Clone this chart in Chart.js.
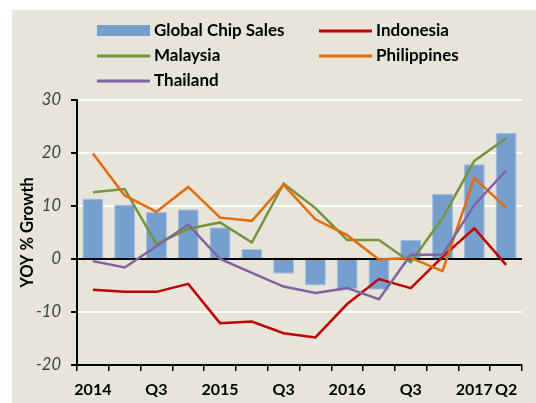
<!DOCTYPE html>
<html>
<head>
<meta charset="utf-8">
<script src="https://cdn.jsdelivr.net/npm/chart.js@4"></script>
<style>
  html, body { margin: 0; padding: 0; background: #ffffff; }
  #wrap { position: absolute; left: 12px; top: 10px; width: 524px; height: 393px; background: #E7E5D9; }
  canvas { display: block; }
</style>
</head>
<body>
<div id="wrap"><canvas id="canvas" width="524" height="393"></canvas></div>
<script>
// quarters 2014 Q1 .. 2017 Q2, only some get a label
var quarters = ['2014', '', 'Q3', '', '2015', '', 'Q3', '', '2016', '', 'Q3', '', '2017', 'Q2']

// YOY % growth
var chipSales   = [11.4, 10.3, 8.9, 9.4, 6.0, 1.9, -2.8, -5.0, -5.7, -5.8, 3.6, 12.3, 17.9, 23.8]
var indonesia   = [-5.8, -6.2, -6.2, -4.7, -12.1, -11.8, -14.0, -14.8, -8.5, -3.8, -5.5, 0.4, 5.8, -1.1]
var malaysia    = [12.6, 13.2, 2.8, 5.7, 6.9, 3.1, 14.2, 9.6, 3.6, 3.6, -0.6, 7.7, 18.5, 22.8]
var philippines = [19.9, 12.0, 8.9, 13.6, 7.8, 7.2, 14.0, 7.5, 4.5, -0.1, 0.2, -2.3, 15.3, 9.7]
var thailand    = [-0.4, -1.6, 2.4, 6.5, 0.0, -2.6, -5.2, -6.4, -5.5, -7.6, 0.8, 0.8, 10.2, 16.7]

var yTicks = [-20, -10, 0, 10, 20, 30]

var FONT = 'Lato, Calibri, "Open Sans", sans-serif'

function lineSet(label, values, color, order) {
    return {
        type: 'line',
        label: label,
        data: values,
        borderColor: color,
        backgroundColor: color,
        borderWidth: 2.5,
        pointRadius: 0,
        tension: 0,
        order: order
    }
}

// legend drawn by hand: two columns like the excel one
var legendPlugin = {
    id: 'gridLegend',
    afterDraw: function (chart) {
        var c = chart.ctx
        var spots = [[85, 21], [307, 21], [85, 46], [307, 46], [85, 71]]
        c.save()
        c.font = 'bold 17px ' + FONT
        c.textBaseline = 'middle'
        chart.data.datasets.forEach(function (ds, i) {
            var x = spots[i][0], y = spots[i][1]
            if (ds.type === 'line') {
                c.strokeStyle = ds.borderColor
                c.lineWidth = 3
                c.beginPath()
                c.moveTo(x, y)
                c.lineTo(x + 53, y)
                c.stroke()
            } else {
                c.fillStyle = ds.backgroundColor
                c.fillRect(x, y - 6, 53, 11)
            }
            c.fillStyle = '#000000'
            c.fillText(ds.label, x + 57, y)
        })
        c.restore()
    }
}

var config = {
    type: 'bar',
    data: {
        labels: quarters,
        datasets: [
            {
                type: 'bar',
                label: 'Global Chip Sales',
                data: chipSales,
                backgroundColor: '#779FCD',
                borderColor: '#A6C0DF',
                borderWidth: 1,
                barPercentage: 0.66,
                categoryPercentage: 1,
                order: 10
            },
            lineSet('Indonesia', indonesia, '#C00000', 4),
            lineSet('Malaysia', malaysia, '#77933C', 3),
            lineSet('Philippines', philippines, '#E46C0A', 2),
            lineSet('Thailand', thailand, '#8064A2', 1)
        ]
    },
    options: {
        responsive: false,
        animation: false,
        devicePixelRatio: 1,
        layout: { padding: { top: 90, right: 14, left: 0, bottom: 0 } },
        plugins: {
            legend: { display: false },
            tooltip: { enabled: false }
        },
        scales: {
            x: {
                offset: true,
                grid: {
                    display: true,
                    offset: true,
                    drawOnChartArea: false,
                    drawTicks: true,
                    tickLength: 6,
                    color: '#000000',
                    lineWidth: 1.5
                },
                border: { color: '#000000', width: 2 },
                ticks: {
                    autoSkip: false,
                    maxRotation: 0,
                    padding: 9,
                    color: '#000000',
                    font: { family: FONT, size: 16, weight: 'bold' }
                },
                afterFit: function (s) { s.height = 38 }
            },
            y: {
                min: -20,
                max: 30,
                afterBuildTicks: function (s) {
                    s.ticks = yTicks.map(function (v) { return { value: v } })
                },
                grid: {
                    color: function (ctx) { return ctx.tick && ctx.tick.value === 0 ? '#000000' : '#FFFFFF' },
                    lineWidth: 2,
                    tickColor: '#000000',
                    tickLength: 6
                },
                border: { color: '#000000', width: 2 },
                ticks: {
                    padding: 10,
                    color: '#404040',
                    font: { family: FONT, size: 16.5, style: 'italic' }
                },
                title: {
                    display: true,
                    text: 'YOY % Growth',
                    color: '#000000',
                    padding: { top: 6, bottom: 0 },
                    font: { family: FONT, size: 16.5, weight: 'bold' }
                },
                afterFit: function (s) { s.width = 65 }
            }
        }
    },
    plugins: [legendPlugin]
}

var myChart = new Chart(document.getElementById('canvas').getContext('2d'), config)
</script>
</body>
</html>
